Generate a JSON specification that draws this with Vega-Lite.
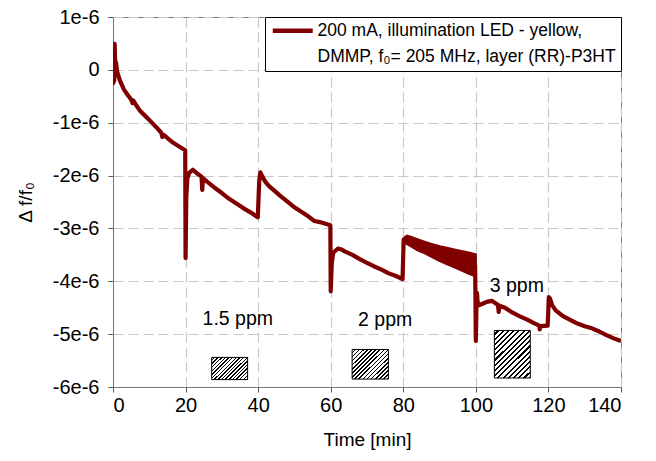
{
  "$schema": "https://vega.github.io/schema/vega-lite/v6.json",
  "width": 508,
  "height": 370,
  "autosize": {"type": "none"},
  "padding": {"left": 113, "top": 17, "right": 35, "bottom": 74},
  "background": "white",
  "config": {
    "font": "Liberation Sans",
    "view": {"stroke": "#777777", "strokeWidth": 1},
    "axis": {
      "labelFont": "Liberation Sans", "labelFontSize": 20, "labelColor": "black",
      "titleFont": "Liberation Sans", "titleFontSize": 19, "titleFontWeight": "normal", "titleColor": "black",
      "domainColor": "#777777", "tickColor": "#555555", "tickSize": 5,
      "gridColor": "#c8c8c8", "gridDash": [10, 5], "gridWidth": 1.2
    },
    "style": {"guide-label": {"lineHeight": 26}}
  },
  "layer": [
    {
      "data": {"values": [
        {"t": 80.1, "hi": -3.20e-6, "lo": -3.25e-6},
        {"t": 81, "hi": -3.15e-6, "lo": -3.28e-6},
        {"t": 82, "hi": -3.17e-6, "lo": -3.32e-6},
        {"t": 84, "hi": -3.22e-6, "lo": -3.40e-6},
        {"t": 86, "hi": -3.27e-6, "lo": -3.46e-6},
        {"t": 88, "hi": -3.31e-6, "lo": -3.53e-6},
        {"t": 90, "hi": -3.35e-6, "lo": -3.60e-6},
        {"t": 92, "hi": -3.38e-6, "lo": -3.66e-6},
        {"t": 94, "hi": -3.41e-6, "lo": -3.72e-6},
        {"t": 96, "hi": -3.44e-6, "lo": -3.78e-6},
        {"t": 98, "hi": -3.47e-6, "lo": -3.84e-6},
        {"t": 99.8, "hi": -3.50e-6, "lo": -3.89e-6}
      ]},
      "mark": {"type": "area", "color": "#800000", "stroke": "#800000", "strokeWidth": 3.5},
      "encoding": {
        "x": {"field": "t", "type": "quantitative"},
        "y": {"field": "hi", "type": "quantitative"},
        "y2": {"field": "lo"}
      }
    },
    {
      "data": {"values": [
        {"t": 0, "v": 0.2e-6}, {"t": 0.1, "v": -0.25e-6}, {"t": 0.2, "v": 0.35e-6}, {"t": 0.35, "v": -0.2e-6},
        {"t": 0.45, "v": 0.49e-6}, {"t": 0.6, "v": 0.1e-6}, {"t": 0.8, "v": 0.15e-6}, {"t": 1.2, "v": -0.05e-6},
        {"t": 2, "v": -0.22e-6}, {"t": 3, "v": -0.37e-6}, {"t": 4, "v": -0.47e-6}, {"t": 5, "v": -0.56e-6},
        {"t": 5.4, "v": -0.63e-6}, {"t": 5.6, "v": -0.58e-6}, {"t": 6.5, "v": -0.68e-6}, {"t": 7.5, "v": -0.78e-6},
        {"t": 9, "v": -0.88e-6}, {"t": 10.3, "v": -0.97e-6}, {"t": 12, "v": -1.09e-6}, {"t": 13.3, "v": -1.19e-6},
        {"t": 13.6, "v": -1.27e-6}, {"t": 14, "v": -1.23e-6}, {"t": 15, "v": -1.29e-6}, {"t": 16.6, "v": -1.38e-6},
        {"t": 18, "v": -1.44e-6}, {"t": 19.9, "v": -1.52e-6}, {"t": 20.0, "v": -3.56e-6}, {"t": 20.2, "v": -2.4e-6},
        {"t": 20.5, "v": -2.05e-6}, {"t": 21, "v": -1.95e-6}, {"t": 22, "v": -1.89e-6}, {"t": 23, "v": -1.95e-6},
        {"t": 24.4, "v": -2.02e-6}, {"t": 24.6, "v": -2.27e-6}, {"t": 24.8, "v": -2.05e-6}, {"t": 26, "v": -2.12e-6},
        {"t": 28, "v": -2.23e-6}, {"t": 30, "v": -2.33e-6}, {"t": 32, "v": -2.44e-6}, {"t": 34, "v": -2.53e-6},
        {"t": 36, "v": -2.62e-6}, {"t": 38, "v": -2.7e-6}, {"t": 39.9, "v": -2.79e-6}, {"t": 40.3, "v": -2.1e-6},
        {"t": 40.6, "v": -1.94e-6}, {"t": 41.2, "v": -2.02e-6}, {"t": 42, "v": -2.12e-6}, {"t": 43, "v": -2.2e-6},
        {"t": 44.7, "v": -2.3e-6}, {"t": 46, "v": -2.38e-6}, {"t": 48, "v": -2.49e-6}, {"t": 50, "v": -2.6e-6},
        {"t": 52, "v": -2.69e-6}, {"t": 54, "v": -2.78e-6}, {"t": 55.5, "v": -2.86e-6}, {"t": 57, "v": -2.88e-6},
        {"t": 59.9, "v": -2.94e-6}, {"t": 60, "v": -4.19e-6}, {"t": 60.3, "v": -3.65e-6}, {"t": 60.7, "v": -3.46e-6},
        {"t": 62, "v": -3.38e-6}, {"t": 63, "v": -3.4e-6}, {"t": 64, "v": -3.44e-6}, {"t": 66, "v": -3.5e-6},
        {"t": 68, "v": -3.58e-6}, {"t": 70, "v": -3.65e-6}, {"t": 72, "v": -3.72e-6}, {"t": 74, "v": -3.78e-6},
        {"t": 76, "v": -3.85e-6}, {"t": 78, "v": -3.9e-6}, {"t": 79.8, "v": -3.96e-6}, {"t": 80.1, "v": -3.22e-6},
        {"t": 81, "v": -3.21e-6}, {"t": 85, "v": -3.33e-6}, {"t": 90, "v": -3.47e-6}, {"t": 95, "v": -3.6e-6},
        {"t": 99.8, "v": -3.7e-6}, {"t": 100, "v": -5.13e-6}, {"t": 100.2, "v": -4.35e-6}, {"t": 100.3, "v": -4.22e-6},
        {"t": 100.5, "v": -4.4e-6}, {"t": 101, "v": -4.45e-6}, {"t": 102, "v": -4.42e-6}, {"t": 103, "v": -4.39e-6},
        {"t": 104.4, "v": -4.37e-6}, {"t": 105.5, "v": -4.42e-6}, {"t": 106.1, "v": -4.45e-6}, {"t": 106.3, "v": -4.58e-6},
        {"t": 106.5, "v": -4.46e-6}, {"t": 108, "v": -4.5e-6}, {"t": 110, "v": -4.59e-6}, {"t": 112, "v": -4.66e-6},
        {"t": 114, "v": -4.72e-6}, {"t": 116, "v": -4.79e-6}, {"t": 117.5, "v": -4.84e-6}, {"t": 117.6, "v": -4.91e-6},
        {"t": 117.8, "v": -4.85e-6}, {"t": 119.8, "v": -4.84e-6}, {"t": 120.1, "v": -4.3e-6}, {"t": 120.4, "v": -4.32e-6},
        {"t": 121, "v": -4.45e-6}, {"t": 122, "v": -4.55e-6}, {"t": 124, "v": -4.66e-6}, {"t": 126, "v": -4.73e-6},
        {"t": 128, "v": -4.8e-6}, {"t": 130, "v": -4.85e-6}, {"t": 132, "v": -4.89e-6}, {"t": 134, "v": -4.95e-6},
        {"t": 136, "v": -5.02e-6}, {"t": 138, "v": -5.08e-6}, {"t": 140, "v": -5.13e-6}
      ]},
      "mark": {"type": "line", "strokeWidth": 4.2, "strokeJoin": "round", "clip": true},
      "encoding": {
        "x": {"field": "t", "type": "quantitative", "scale": {"domain": [0, 140], "nice": false},
          "axis": {"values": [0, 20, 40, 60, 80, 100, 120, 140], "title": "Time [min]", "labelPadding": 3, "titlePadding": 15}},
        "y": {"field": "v", "type": "quantitative", "scale": {"domain": [-6e-6, 1e-6], "nice": false},
          "axis": {"values": [-6e-6, -5e-6, -4e-6, -3e-6, -2e-6, -1e-6, 0, 1e-6],
            "labelExpr": "datum.value == 0 ? '0' : round(datum.value * 1e6) + 'e-6'",
            "title": "Δ f/f₀", "labelPadding": 9, "titlePadding": 17}},
        "color": {"datum": "200 mA, illumination LED - yellow, DMMP, f₀= 205 MHz, layer (RR)-P3HT", "type": "nominal",
          "scale": {"range": ["#800000"]},
          "legend": {"title": null, "orient": "top-right", "offset": 0, "strokeColor": "black", "fillColor": "white",
            "padding": 5, "symbolType": "M-4,0H4", "symbolSize": 100, "symbolStrokeWidth": 4.5, "symbolOffset": 14,
            "labelFont": "Liberation Sans", "labelFontSize": 17.5, "labelLimit": 500, "labelColor": "black",
            "labelExpr": "[substring(datum.label, 0, 34), substring(datum.label, 35)]", "labelBaseline": "middle", "labelOffset": 16}}
      }
    },
    {
      "data": {"values": [
        {"t": 34.4, "v": -4.71e-6, "label": "1.5 ppm"},
        {"t": 75, "v": -4.74e-6, "label": "2 ppm"},
        {"t": 111.3, "v": -4.08e-6, "label": "3 ppm"}
      ]},
      "mark": {"type": "text", "fontSize": 19.5, "font": "Liberation Sans", "color": "black", "align": "center", "baseline": "middle"},
      "encoding": {
        "x": {"field": "t", "type": "quantitative"},
        "y": {"field": "v", "type": "quantitative"},
        "text": {"field": "label"}
      }
    },
    {
      "data": {"values": [{"t1": 27.2, "t2": 37.1, "v1": -5.44e-6, "v2": -5.86e-6}]},
      "mark": {"type": "rect", "stroke": "black", "strokeWidth": 1,
        "fill": {"gradient": "linear", "x1": 0, "y1": 0, "x2": 1.169, "y2": 0.727, "stops": [
          {"offset": 0, "color": "white"}, {"offset": 0.0375, "color": "white"}, {"offset": 0.0375, "color": "black"}, {"offset": 0.0625, "color": "black"},
          {"offset": 0.0625, "color": "white"}, {"offset": 0.1, "color": "white"}, {"offset": 0.1, "color": "black"}, {"offset": 0.125, "color": "black"},
          {"offset": 0.125, "color": "white"}, {"offset": 0.1625, "color": "white"}, {"offset": 0.1625, "color": "black"}, {"offset": 0.1875, "color": "black"},
          {"offset": 0.1875, "color": "white"}, {"offset": 0.225, "color": "white"}, {"offset": 0.225, "color": "black"}, {"offset": 0.25, "color": "black"},
          {"offset": 0.25, "color": "white"}, {"offset": 0.2875, "color": "white"}, {"offset": 0.2875, "color": "black"}, {"offset": 0.3125, "color": "black"},
          {"offset": 0.3125, "color": "white"}, {"offset": 0.35, "color": "white"}, {"offset": 0.35, "color": "black"}, {"offset": 0.375, "color": "black"},
          {"offset": 0.375, "color": "white"}, {"offset": 0.4125, "color": "white"}, {"offset": 0.4125, "color": "black"}, {"offset": 0.4375, "color": "black"},
          {"offset": 0.4375, "color": "white"}, {"offset": 0.475, "color": "white"}, {"offset": 0.475, "color": "black"}, {"offset": 0.5, "color": "black"},
          {"offset": 0.5, "color": "white"}, {"offset": 0.5375, "color": "white"}, {"offset": 0.5375, "color": "black"}, {"offset": 0.5625, "color": "black"},
          {"offset": 0.5625, "color": "white"}, {"offset": 0.6, "color": "white"}, {"offset": 0.6, "color": "black"}, {"offset": 0.625, "color": "black"},
          {"offset": 0.625, "color": "white"}, {"offset": 0.6625, "color": "white"}, {"offset": 0.6625, "color": "black"}, {"offset": 0.6875, "color": "black"},
          {"offset": 0.6875, "color": "white"}, {"offset": 0.725, "color": "white"}, {"offset": 0.725, "color": "black"}, {"offset": 0.75, "color": "black"},
          {"offset": 0.75, "color": "white"}, {"offset": 0.7875, "color": "white"}, {"offset": 0.7875, "color": "black"}, {"offset": 0.8125, "color": "black"},
          {"offset": 0.8125, "color": "white"}, {"offset": 0.85, "color": "white"}, {"offset": 0.85, "color": "black"}, {"offset": 0.875, "color": "black"},
          {"offset": 0.875, "color": "white"}, {"offset": 0.9125, "color": "white"}, {"offset": 0.9125, "color": "black"}, {"offset": 0.9375, "color": "black"},
          {"offset": 0.9375, "color": "white"}, {"offset": 0.975, "color": "white"}, {"offset": 0.975, "color": "black"}, {"offset": 1, "color": "black"}
        ]}},
      "encoding": {
        "x": {"field": "t1", "type": "quantitative"}, "x2": {"field": "t2"},
        "y": {"field": "v1", "type": "quantitative"}, "y2": {"field": "v2"}
      }
    },
    {
      "data": {"values": [{"t1": 65.9, "t2": 75.9, "v1": -5.29e-6, "v2": -5.85e-6}]},
      "mark": {"type": "rect", "stroke": "black", "strokeWidth": 1,
        "fill": {"gradient": "linear", "x1": 0, "y1": 0, "x2": 1.086, "y2": 0.897, "stops": [
          {"offset": 0, "color": "white"}, {"offset": 0.0375, "color": "white"}, {"offset": 0.0375, "color": "black"}, {"offset": 0.0625, "color": "black"},
          {"offset": 0.0625, "color": "white"}, {"offset": 0.1, "color": "white"}, {"offset": 0.1, "color": "black"}, {"offset": 0.125, "color": "black"},
          {"offset": 0.125, "color": "white"}, {"offset": 0.1625, "color": "white"}, {"offset": 0.1625, "color": "black"}, {"offset": 0.1875, "color": "black"},
          {"offset": 0.1875, "color": "white"}, {"offset": 0.225, "color": "white"}, {"offset": 0.225, "color": "black"}, {"offset": 0.25, "color": "black"},
          {"offset": 0.25, "color": "white"}, {"offset": 0.2875, "color": "white"}, {"offset": 0.2875, "color": "black"}, {"offset": 0.3125, "color": "black"},
          {"offset": 0.3125, "color": "white"}, {"offset": 0.35, "color": "white"}, {"offset": 0.35, "color": "black"}, {"offset": 0.375, "color": "black"},
          {"offset": 0.375, "color": "white"}, {"offset": 0.4125, "color": "white"}, {"offset": 0.4125, "color": "black"}, {"offset": 0.4375, "color": "black"},
          {"offset": 0.4375, "color": "white"}, {"offset": 0.475, "color": "white"}, {"offset": 0.475, "color": "black"}, {"offset": 0.5, "color": "black"},
          {"offset": 0.5, "color": "white"}, {"offset": 0.5375, "color": "white"}, {"offset": 0.5375, "color": "black"}, {"offset": 0.5625, "color": "black"},
          {"offset": 0.5625, "color": "white"}, {"offset": 0.6, "color": "white"}, {"offset": 0.6, "color": "black"}, {"offset": 0.625, "color": "black"},
          {"offset": 0.625, "color": "white"}, {"offset": 0.6625, "color": "white"}, {"offset": 0.6625, "color": "black"}, {"offset": 0.6875, "color": "black"},
          {"offset": 0.6875, "color": "white"}, {"offset": 0.725, "color": "white"}, {"offset": 0.725, "color": "black"}, {"offset": 0.75, "color": "black"},
          {"offset": 0.75, "color": "white"}, {"offset": 0.7875, "color": "white"}, {"offset": 0.7875, "color": "black"}, {"offset": 0.8125, "color": "black"},
          {"offset": 0.8125, "color": "white"}, {"offset": 0.85, "color": "white"}, {"offset": 0.85, "color": "black"}, {"offset": 0.875, "color": "black"},
          {"offset": 0.875, "color": "white"}, {"offset": 0.9125, "color": "white"}, {"offset": 0.9125, "color": "black"}, {"offset": 0.9375, "color": "black"},
          {"offset": 0.9375, "color": "white"}, {"offset": 0.975, "color": "white"}, {"offset": 0.975, "color": "black"}, {"offset": 1, "color": "black"}
        ]}},
      "encoding": {
        "x": {"field": "t1", "type": "quantitative"}, "x2": {"field": "t2"},
        "y": {"field": "v1", "type": "quantitative"}, "y2": {"field": "v2"}
      }
    },
    {
      "data": {"values": [{"t1": 105.1, "t2": 115.0, "v1": -4.93e-6, "v2": -5.83e-6}]},
      "mark": {"type": "rect", "stroke": "black", "strokeWidth": 1,
        "fill": {"gradient": "linear", "x1": 0, "y1": 0, "x2": 0.84, "y2": 1.12, "stops": [
          {"offset": 0, "color": "white"}, {"offset": 0.0375, "color": "white"}, {"offset": 0.0375, "color": "black"}, {"offset": 0.0625, "color": "black"},
          {"offset": 0.0625, "color": "white"}, {"offset": 0.1, "color": "white"}, {"offset": 0.1, "color": "black"}, {"offset": 0.125, "color": "black"},
          {"offset": 0.125, "color": "white"}, {"offset": 0.1625, "color": "white"}, {"offset": 0.1625, "color": "black"}, {"offset": 0.1875, "color": "black"},
          {"offset": 0.1875, "color": "white"}, {"offset": 0.225, "color": "white"}, {"offset": 0.225, "color": "black"}, {"offset": 0.25, "color": "black"},
          {"offset": 0.25, "color": "white"}, {"offset": 0.2875, "color": "white"}, {"offset": 0.2875, "color": "black"}, {"offset": 0.3125, "color": "black"},
          {"offset": 0.3125, "color": "white"}, {"offset": 0.35, "color": "white"}, {"offset": 0.35, "color": "black"}, {"offset": 0.375, "color": "black"},
          {"offset": 0.375, "color": "white"}, {"offset": 0.4125, "color": "white"}, {"offset": 0.4125, "color": "black"}, {"offset": 0.4375, "color": "black"},
          {"offset": 0.4375, "color": "white"}, {"offset": 0.475, "color": "white"}, {"offset": 0.475, "color": "black"}, {"offset": 0.5, "color": "black"},
          {"offset": 0.5, "color": "white"}, {"offset": 0.5375, "color": "white"}, {"offset": 0.5375, "color": "black"}, {"offset": 0.5625, "color": "black"},
          {"offset": 0.5625, "color": "white"}, {"offset": 0.6, "color": "white"}, {"offset": 0.6, "color": "black"}, {"offset": 0.625, "color": "black"},
          {"offset": 0.625, "color": "white"}, {"offset": 0.6625, "color": "white"}, {"offset": 0.6625, "color": "black"}, {"offset": 0.6875, "color": "black"},
          {"offset": 0.6875, "color": "white"}, {"offset": 0.725, "color": "white"}, {"offset": 0.725, "color": "black"}, {"offset": 0.75, "color": "black"},
          {"offset": 0.75, "color": "white"}, {"offset": 0.7875, "color": "white"}, {"offset": 0.7875, "color": "black"}, {"offset": 0.8125, "color": "black"},
          {"offset": 0.8125, "color": "white"}, {"offset": 0.85, "color": "white"}, {"offset": 0.85, "color": "black"}, {"offset": 0.875, "color": "black"},
          {"offset": 0.875, "color": "white"}, {"offset": 0.9125, "color": "white"}, {"offset": 0.9125, "color": "black"}, {"offset": 0.9375, "color": "black"},
          {"offset": 0.9375, "color": "white"}, {"offset": 0.975, "color": "white"}, {"offset": 0.975, "color": "black"}, {"offset": 1, "color": "black"}
        ]}},
      "encoding": {
        "x": {"field": "t1", "type": "quantitative"}, "x2": {"field": "t2"},
        "y": {"field": "v1", "type": "quantitative"}, "y2": {"field": "v2"}
      }
    }
  ]
}
